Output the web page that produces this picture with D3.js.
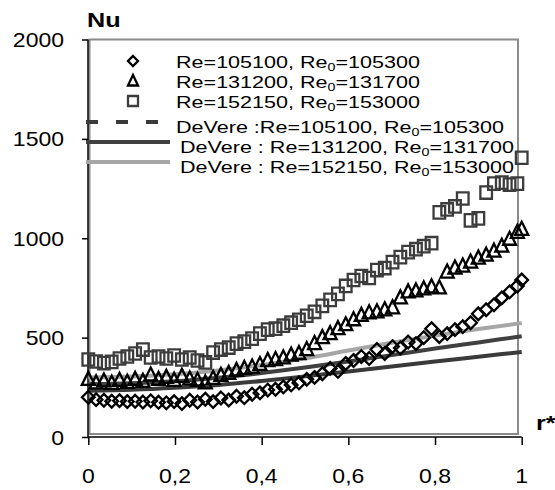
<!DOCTYPE html>
<html>
<head>
<meta charset="utf-8">
<script src="https://cdn.jsdelivr.net/npm/d3@7/dist/d3.min.js"></script>
<style>
  html, body { margin: 0; padding: 0; background: #fff; }
  svg { display: block; }
  text { font-family: "Liberation Sans", Arial, sans-serif; fill: #000; }
</style>
</head>
<body>
<svg id="chart" width="555" height="490"></svg>
<script>
// Measured local Nusselt number along the radius, three Reynolds numbers
const rDiamond = [0.000,0.018,0.036,0.054,0.072,0.090,0.108,0.126,0.144,0.162,0.180,0.198,0.216,0.234,0.252,0.270,0.288,0.306,0.324,0.342,0.360,0.378,0.396,0.414,0.432,0.450,0.468,0.486,0.504,0.522,0.540,0.558,0.576,0.594,0.612,0.630,0.648,0.666,0.684,0.702,0.720,0.738,0.756,0.774,0.792,0.810,0.828,0.846,0.864,0.882,0.900,0.918,0.936,0.954,0.972,0.990,1.000];
const nuDiamond = [200,188,185,180,183,178,180,176,182,175,172,178,168,185,176,190,178,196,186,205,198,215,222,236,240,252,262,272,290,300,318,345,330,370,385,405,395,440,420,455,448,478,470,500,545,505,520,540,555,575,620,640,665,700,730,760,790];

const rTriangle = [0.000,0.018,0.036,0.054,0.072,0.090,0.108,0.126,0.144,0.162,0.180,0.198,0.216,0.234,0.252,0.270,0.288,0.306,0.324,0.342,0.360,0.378,0.396,0.414,0.432,0.450,0.468,0.486,0.504,0.522,0.540,0.558,0.576,0.594,0.612,0.630,0.648,0.666,0.684,0.702,0.720,0.738,0.756,0.774,0.792,0.810,0.828,0.846,0.864,0.882,0.900,0.918,0.936,0.954,0.972,0.990,1.000];
const nuTriangle = [290,272,282,270,285,275,290,280,312,290,300,285,305,292,285,272,295,310,320,335,345,352,365,385,390,398,412,420,440,470,500,520,545,565,590,612,625,630,640,650,700,730,735,745,755,750,830,850,860,880,900,915,935,960,995,1030,1045];

const rSquare = [0.000,0.018,0.036,0.054,0.072,0.090,0.108,0.126,0.144,0.162,0.180,0.198,0.216,0.234,0.252,0.270,0.288,0.306,0.324,0.342,0.360,0.378,0.396,0.414,0.432,0.450,0.468,0.486,0.504,0.522,0.540,0.558,0.576,0.594,0.612,0.630,0.648,0.666,0.684,0.702,0.720,0.738,0.756,0.774,0.792,0.810,0.828,0.846,0.864,0.882,0.900,0.918,0.936,0.954,0.972,0.990,1.000];
const nuSquare = [390,380,372,378,395,405,420,440,400,405,395,410,390,400,385,375,425,440,450,470,480,495,520,540,545,560,575,590,610,630,660,690,720,760,790,810,800,840,850,880,905,930,945,960,975,1130,1145,1160,1200,1090,1100,1230,1275,1280,1270,1275,1405];

// DeVere correlation curves
const rDeVere = [0,0.1,0.2,0.3,0.4,0.5,0.6,0.7,0.8,0.9,1.0];
const nuDeVere105 = [233,238,248,262,282,305,330,355,380,404,428];
const nuDeVere131 = [265,270,280,298,322,350,380,412,445,476,507];
const nuDeVere152 = [300,305,316,335,362,396,435,474,510,543,573];

const xTicks = [0, 0.2, 0.4, 0.6, 0.8, 1];
const xTickLabels = ["0", "0,2", "0,4", "0,6", "0,8", "1"];
const yTicks = [0, 500, 1000, 1500, 2000];

const legendLabels = [
  ["Re=105100, Re", "=105300"],
  ["Re=131200, Re", "=131700"],
  ["Re=152150, Re", "=153000"],
  ["DeVere :Re=105100, Re", "=105300"],
  ["DeVere : Re=131200, Re", "=131700"],
  ["DeVere : Re=152150, Re", "=153000"]
];

const svg = d3.select("#chart");
const x = d3.scaleLinear().domain([0, 1]).range([88.3, 521.7]);
const y = d3.scaleLinear().domain([0, 2000]).range([437, 39.5]);

// Text in this chart is drawn slightly wide
function wideText(g, px, py, str, size, sx, anchor, weight) {
  return g.append("text")
    .attr("transform", `translate(${px},${py}) scale(${sx},1)`)
    .attr("text-anchor", anchor || "start")
    .attr("font-size", size)
    .attr("font-weight", weight || "normal")
    .text(str);
}

// plot area frame
svg.append("rect")
  .attr("x", 89.5).attr("y", 39.5)
  .attr("width", 518 - 89.5).attr("height", 434 - 39.5)
  .attr("fill", "none").attr("stroke", "#8a8a8a").attr("stroke-width", 2);

// axes
const xAxis = d3.axisBottom(x).tickValues(xTicks).tickSize(8).tickFormat("");
const yAxis = d3.axisLeft(y).tickValues(yTicks).tickSize(6).tickFormat("");
const gx = svg.append("g").attr("transform", "translate(0,437)").call(xAxis);
const gy = svg.append("g").attr("transform", "translate(88,0)").call(yAxis);
[gx, gy].forEach(g => {
  g.select(".domain").attr("stroke", "#000").attr("stroke-width", 1.5);
  g.selectAll(".tick line").attr("stroke", "#000").attr("stroke-width", 1.5);
});
gx.select(".domain").attr("d", `M${x(0)},0H${x(1)}`);
gy.select(".domain").attr("d", `M0,${y(2000)}V${y(0)}`);

const labels = svg.append("g");
yTicks.forEach(v => wideText(labels, 64, y(v) + 7.5, String(v), 20, 1.15, "end"));
xTicks.forEach((v, i) => wideText(labels, x(v), 483, xTickLabels[i], 20, 1.15, "middle"));
wideText(labels, 87, 27, "Nu", 21, 1.2, "start", "bold");
wideText(labels, 536, 430, "r*", 21, 1.2, "start", "bold");

// DeVere curves
const line = d3.line().x(d => x(d[0])).y(d => y(d[1])).curve(d3.curveMonotoneX);
const curves = [
  { vals: nuDeVere105, color: "#3a3a3a" },
  { vals: nuDeVere131, color: "#404040" },
  { vals: nuDeVere152, color: "#a6a6a6" }
];
curves.forEach(c => {
  svg.append("path")
    .datum(rDeVere.map((r, i) => [r, c.vals[i]]))
    .attr("d", line)
    .attr("fill", "none")
    .attr("stroke", c.color)
    .attr("stroke-width", 4);
});

// marker shapes
const diamondPath = "M0,-6.3L6.3,0L0,6.3L-6.3,0Z";
const trianglePath = "M0,-7.5L6.5,5.5L-6.5,5.5Z";
const squarePath = "M-5.8,-6.2L5.8,-6.2L5.8,6.2L-5.8,6.2Z";

function drawSeries(rs, vs, path, color) {
  svg.append("g").selectAll("path")
    .data(rs.map((r, i) => [r, vs[i]]))
    .join("path")
    .attr("transform", d => `translate(${x(d[0])},${y(d[1])})`)
    .attr("d", path)
    .attr("fill", "none")
    .attr("stroke", color)
    .attr("stroke-width", 2.3);
}
drawSeries(rSquare, nuSquare, squarePath, "#3c3c3c");
drawSeries(rTriangle, nuTriangle, trianglePath, "#000");
drawSeries(rDiamond, nuDiamond, diamondPath, "#000");

// legend
const lg = svg.append("g");
const rowBase = [68, 88, 108, 133, 153, 173];
const rowX = [176, 176, 176, 176, 180, 180];
const markerPaths = [
  "M0,-5L5,0L0,5L-5,0Z",
  "M0,-6L5,4.5L-5,4.5Z",
  "M-5,-5L5,-5L5,5L-5,5Z"
];
const markerColors = ["#000", "#000", "#3c3c3c"];
for (let i = 0; i < 3; i++) {
  lg.append("path")
    .attr("transform", `translate(133,${rowBase[i] - 7})`)
    .attr("d", markerPaths[i])
    .attr("fill", "#fff")
    .attr("stroke", markerColors[i])
    .attr("stroke-width", 2.3);
}
const legendLines = [
  { color: "#3a3a3a", dash: "12,18" },
  { color: "#404040", dash: null },
  { color: "#a6a6a6", dash: null }
];
legendLines.forEach((l, i) => {
  lg.append("line")
    .attr("x1", 86).attr("x2", 170)
    .attr("y1", rowBase[i + 3] - 11).attr("y2", rowBase[i + 3] - 11)
    .attr("stroke", l.color).attr("stroke-width", 4)
    .attr("stroke-dasharray", l.dash);
});
legendLabels.forEach((parts, i) => {
  const t = lg.append("text")
    .attr("transform", `translate(${rowX[i]},${rowBase[i]}) scale(1.24,1)`)
    .attr("font-size", 17.4);
  t.append("tspan").text(parts[0]);
  t.append("tspan").attr("font-size", 11.5).attr("dy", 2.5).text("0");
  t.append("tspan").attr("dy", -2.5).text(parts[1]);
});
</script>
</body>
</html>
